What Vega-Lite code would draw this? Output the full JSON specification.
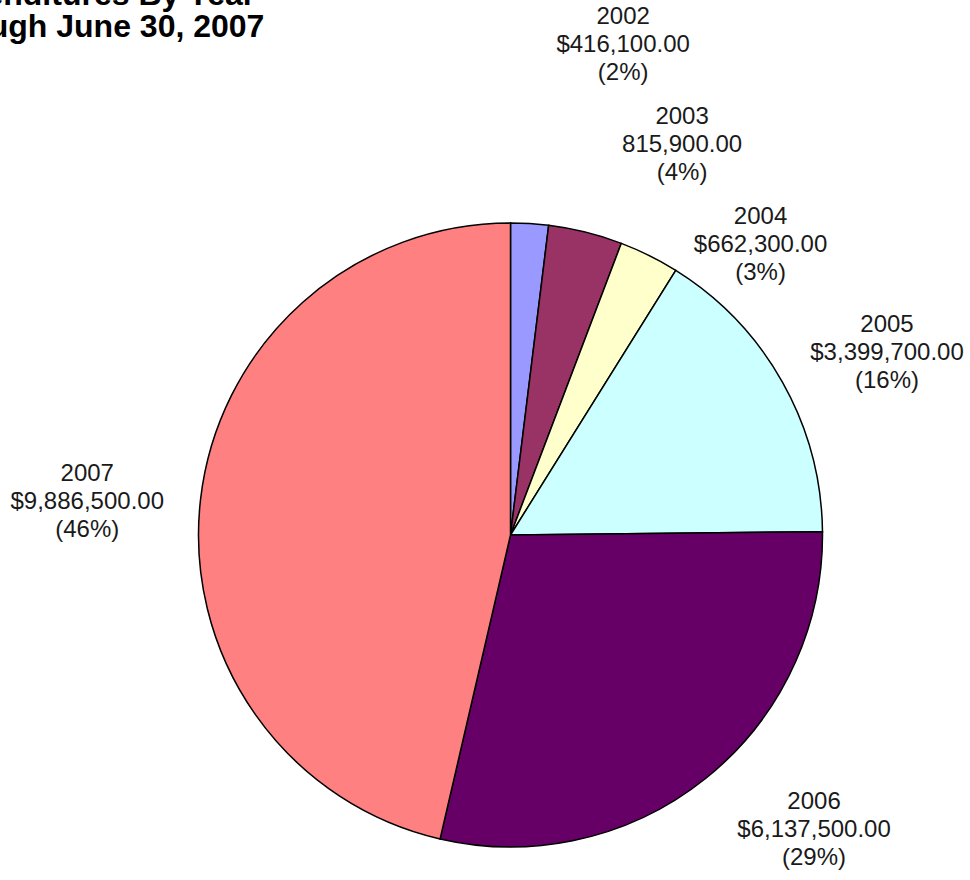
{
  "$schema": "https://vega.github.io/schema/vega-lite/v6.json",
  "width": 919,
  "height": 690,
  "autosize": "none",
  "padding": {"left": 51, "top": 190, "right": 0, "bottom": 0},
  "background": "white",
  "title": {
    "text": ["Expenditures By Year", "Through June 30, 2007"],
    "anchor": "start",
    "frame": "group",
    "align": "center",
    "baseline": "alphabetic",
    "dx": 40,
    "offset": -64,
    "font": "Liberation Sans",
    "fontSize": 32,
    "fontWeight": "bold",
    "lineHeight": 32,
    "color": "#000000"
  },
  "data": {
    "values": [
      {"year": "2002", "amount": 416100, "label": "2002\n$416,100.00\n(2%)"},
      {"year": "2003", "amount": 815900, "label": "2003\n815,900.00\n(4%)"},
      {"year": "2004", "amount": 662300, "label": "2004\n$662,300.00\n(3%)"},
      {"year": "2005", "amount": 3399700, "label": "2005\n$3,399,700.00\n(16%)"},
      {"year": "2006", "amount": 6137500, "label": "2006\n$6,137,500.00\n(29%)"},
      {"year": "2007", "amount": 9886500, "label": "2007\n$9,886,500.00\n(46%)"}
    ]
  },
  "encoding": {
    "theta": {"field": "amount", "type": "quantitative", "stack": true},
    "order": {"field": "year", "type": "ordinal", "sort": "ascending"}
  },
  "layer": [
    {
      "mark": {"type": "arc", "radius": 312, "stroke": "#000000", "strokeWidth": 1.5},
      "encoding": {
        "color": {
          "field": "year",
          "type": "nominal",
          "legend": null,
          "scale": {
            "domain": ["2002", "2003", "2004", "2005", "2006", "2007"],
            "range": ["#9999FF", "#993366", "#FFFFCC", "#CCFFFF", "#660066", "#FF8080"]
          }
        }
      }
    },
    {
      "mark": {"type": "text", "radius": 500, "dx": 82, "dy": -19, "font": "Liberation Sans", "fontSize": 24, "lineHeight": 28, "lineBreak": "\n", "align": "center", "baseline": "middle", "fill": "#1a1a1a"},
      "encoding": {"detail": {"field": "year"}, "text": {"condition": {"test": "datum.year === '2002'", "field": "label"}, "value": ""}}
    },
    {
      "mark": {"type": "text", "radius": 410, "dx": 73, "dy": -20, "font": "Liberation Sans", "fontSize": 24, "lineHeight": 28, "lineBreak": "\n", "align": "center", "baseline": "middle", "fill": "#1a1a1a"},
      "encoding": {"detail": {"field": "year"}, "text": {"condition": {"test": "datum.year === '2003'", "field": "label"}, "value": ""}}
    },
    {
      "mark": {"type": "text", "radius": 360, "dx": 90, "dy": 4, "font": "Liberation Sans", "fontSize": 24, "lineHeight": 28, "lineBreak": "\n", "align": "center", "baseline": "middle", "fill": "#1a1a1a"},
      "encoding": {"detail": {"field": "year"}, "text": {"condition": {"test": "datum.year === '2004'", "field": "label"}, "value": ""}}
    },
    {
      "mark": {"type": "text", "radius": 418, "dx": 12, "dy": -5, "font": "Liberation Sans", "fontSize": 24, "lineHeight": 28, "lineBreak": "\n", "align": "center", "baseline": "middle", "fill": "#1a1a1a"},
      "encoding": {"detail": {"field": "year"}, "text": {"condition": {"test": "datum.year === '2005'", "field": "label"}, "value": ""}}
    },
    {
      "mark": {"type": "text", "radius": 424, "dx": 38, "dy": -64, "font": "Liberation Sans", "fontSize": 24, "lineHeight": 28, "lineBreak": "\n", "align": "center", "baseline": "middle", "fill": "#1a1a1a"},
      "encoding": {"detail": {"field": "year"}, "text": {"condition": {"test": "datum.year === '2006'", "field": "label"}, "value": ""}}
    },
    {
      "mark": {"type": "text", "radius": 424, "dx": -2, "dy": -13, "font": "Liberation Sans", "fontSize": 24, "lineHeight": 28, "lineBreak": "\n", "align": "center", "baseline": "middle", "fill": "#1a1a1a"},
      "encoding": {"detail": {"field": "year"}, "text": {"condition": {"test": "datum.year === '2007'", "field": "label"}, "value": ""}}
    }
  ],
  "config": {"view": {"stroke": null}}
}
